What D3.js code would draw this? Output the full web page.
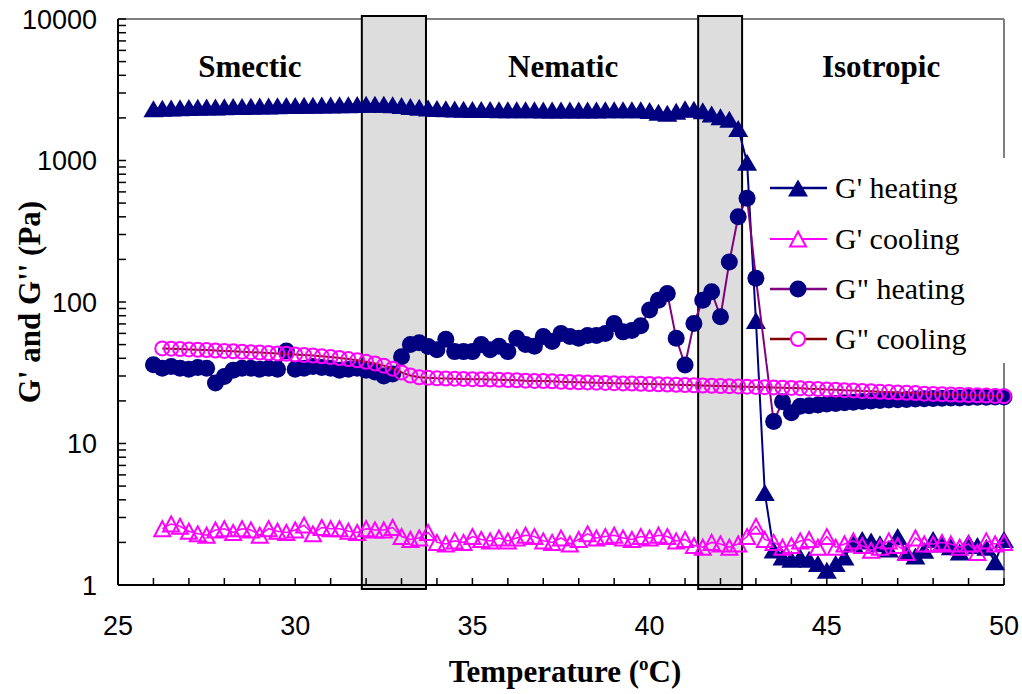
<!DOCTYPE html>
<html>
<head>
<meta charset="utf-8">
<script src="https://cdn.jsdelivr.net/npm/d3@7"></script>
<style>
  html, body { margin: 0; padding: 0; background: #fff; }
  svg { display: block; }
</style>
</head>
<body>
<svg id="chart" width="1022" height="694"></svg>
<script>
// ---------------- DATA ----------------
const temps = [26,26.25,26.5,26.75,27,27.25,27.5,27.75,28,28.25,28.5,28.75,29,29.25,29.5,29.75,
  30,30.25,30.5,30.75,31,31.25,31.5,31.75,32,32.25,32.5,32.75,33,33.25,33.5,33.75,
  34,34.25,34.5,34.75,35,35.25,35.5,35.75,36,36.25,36.5,36.75,37,37.25,37.5,37.75,
  38,38.25,38.5,38.75,39,39.25,39.5,39.75,40,40.25,40.5,40.75,41,41.25,41.5,41.75,
  42,42.25,42.5,42.75,43,43.25,43.5,43.75,44,44.25,44.5,44.75,45,45.25,45.5,45.75,
  46,46.25,46.5,46.75,47,47.25,47.5,47.75,48,48.25,48.5,48.75,49,49.25,49.5,49.75,50];

const gpHeating = [2320,2340,2350,2360,2370,2375,2385,2390,2400,2405,2410,2420,2425,2430,2440,2445,
  2450,2455,2460,2465,2470,2475,2480,2490,2495,2500,2495,2480,2450,2410,2380,2350,
  2330,2320,2310,2300,2295,2290,2290,2285,2285,2280,2280,2280,2275,2275,2275,2270,
  2270,2270,2275,2280,2280,2285,2285,2280,2260,2190,2160,2230,2320,2300,2250,2130,
  2040,1960,1680,970,74,4.5,1.77,1.58,1.52,1.58,1.52,1.42,1.27,1.42,1.58,1.96,
  2.1,2.05,1.96,1.8,2.2,1.71,1.6,1.76,2.1,1.95,1.86,1.71,2.0,1.9,1.85,1.46,2.1];

const gpCooling = [null,2.5,2.7,2.6,2.4,2.3,2.25,2.45,2.5,2.35,2.5,2.45,2.25,2.5,2.4,2.35,
  2.45,2.65,2.3,2.55,2.5,2.5,2.4,2.35,2.5,2.45,2.45,2.55,2.2,2.1,2.15,2.35,
  2.0,1.95,2.05,2.0,2.2,2.1,2.05,2.15,2.05,2.15,2.25,2.2,2.05,2.0,2.15,1.95,
  2.1,2.3,2.15,2.2,2.25,2.15,2.1,2.2,2.15,2.25,2.2,2.05,2.1,1.9,1.85,2.0,
  1.95,1.85,1.95,2.2,2.6,2.1,2.0,1.85,1.9,2.05,2.1,1.85,2.2,1.85,1.95,2.05,
  1.9,1.76,1.85,2.05,1.9,1.7,2.15,1.95,1.95,2.0,1.95,1.85,1.95,1.7,2.05,1.95,2.0];

const gppHeating = [36,34,35,34,33.5,34.5,34,26.8,29.7,33,34,34,33.5,34,33.5,45,
  33.5,34,35,34.5,34,33,33.5,34,33,32,30,31,41,50,51.5,48.5,
  46,54.5,44.6,44.6,44.6,50,46,48.6,44.6,55.5,50,48.6,57,52.5,60,57,
  55.5,58,58,60,70.6,61.5,63,68,87.7,103,115,55.4,35.9,70.6,103,118,
  78.7,192,401,541,147,null,14.3,19.7,16.5,18.3,18.5,18.7,19,19.2,19.4,19.6,
  19.8,20,20.1,20.3,20.4,20.5,20.6,20.7,20.8,20.9,21,21,21.1,21.2,21.2,21.3,21.3];

const gppCooling = [null,47,46.8,46.5,46.2,46,45.7,45.4,45.1,44.8,44.5,44.2,43.9,43.6,43.3,43,
  42.6,42.2,41.8,41.3,40.8,40.2,39.5,38.7,37.8,36.8,35.5,33.8,31.8,30.2,29.4,29.1,
  28.9,28.8,28.7,28.6,28.5,28.4,28.3,28.2,28.1,28,27.8,27.7,27.6,27.5,27.3,27.2,
  27.1,27,26.9,26.8,26.7,26.6,26.5,26.4,26.3,26.2,26.1,26,25.9,25.8,25.7,25.6,
  25.5,25.4,25.3,25.2,25.1,25,24.9,24.8,24.7,24.6,24.4,24.3,24.1,24,23.8,23.7,
  23.5,23.4,23.2,23.1,22.9,22.8,22.7,22.5,22.4,22.3,22.2,22.1,22,21.9,21.8,21.7,21.6];

const seriesNames = ["G' heating", "G' cooling", "G\" heating", "G\" cooling"];
const bandStarts = [31.88, 41.37];
const bandEnds   = [33.69, 42.61];
const phaseNames = ["Smectic", "Nematic", "Isotropic"];
const phaseCenters = [28.72, 37.56, 46.53];
const xTickValues = [25, 30, 35, 40, 45, 50];
const yTickValues = [1, 10, 100, 1000, 10000];

// ---------------- LAYOUT ----------------
const L = 118, R = 1004, T = 19, B = 585;
const svg = d3.select("#chart");
const x = d3.scaleLinear().domain([25, 50]).range([L, R]);
const y = d3.scaleLog().domain([1, 10000]).range([B, T]);

const styles = [
  { line: "#000080", lw: 2,   marker: "tri",  fill: "#000080", stroke: "#000080", sw: 0 },
  { line: "#FF00FF", lw: 1.5, marker: "tri",  fill: "none",    stroke: "#FF00FF", sw: 2 },
  { line: "#800080", lw: 2,   marker: "circ", fill: "#000080", stroke: "#000080", sw: 0 },
  { line: "#800000", lw: 2,   marker: "circ", fill: "none",    stroke: "#FF00FF", sw: 2 }
];
const values = [gpHeating, gpCooling, gppHeating, gppCooling];

function triPath(w, h) {
  return `M0,${-h/2}L${w/2},${h/2}L${-w/2},${h/2}Z`;
}

// frame top & right (gray)
svg.append("line").attr("x1", L).attr("x2", R).attr("y1", T).attr("y2", T)
  .attr("stroke", "#808080").attr("stroke-width", 2);
svg.append("line").attr("x1", R).attr("x2", R).attr("y1", T).attr("y2", B)
  .attr("stroke", "#808080").attr("stroke-width", 2);

// bands
bandStarts.forEach((s, i) => {
  svg.append("rect")
    .attr("x", x(s)).attr("y", T - 3)
    .attr("width", x(bandEnds[i]) - x(s)).attr("height", (B + 4) - (T - 3))
    .attr("fill", "#DDDDDD").attr("stroke", "#000").attr("stroke-width", 2);
});

// axes: bottom
const gx = svg.append("g");
gx.append("line").attr("x1", L).attr("x2", R).attr("y1", B).attr("y2", B)
  .attr("stroke", "#000").attr("stroke-width", 2);
d3.range(26, 51).forEach(t => {
  gx.append("line").attr("x1", x(t)).attr("x2", x(t)).attr("y1", B).attr("y2", B - 7)
    .attr("stroke", "#000").attr("stroke-width", 1.5);
});
xTickValues.forEach(t => {
  gx.append("text").attr("x", x(t)).attr("y", 635)
    .attr("text-anchor", "middle")
    .attr("font-family", "Liberation Sans, Arial, sans-serif").attr("font-size", 27)
    .attr("fill", "#000").text(t);
});

// axes: left
const gy = svg.append("g");
gy.append("line").attr("x1", L).attr("x2", L).attr("y1", T).attr("y2", B)
  .attr("stroke", "#000").attr("stroke-width", 2);
const minorTicks = y.ticks();
minorTicks.forEach(v => {
  gy.append("line").attr("x1", L).attr("x2", L + 8).attr("y1", y(v)).attr("y2", y(v))
    .attr("stroke", "#000").attr("stroke-width", 1.5);
});
yTickValues.forEach(v => {
  gy.append("text").attr("x", 97).attr("y", y(v)).attr("dy", "0.36em")
    .attr("text-anchor", "end")
    .attr("font-family", "Liberation Sans, Arial, sans-serif").attr("font-size", 27)
    .attr("fill", "#000").text(v);
});

// axis titles
svg.append("text")
  .attr("transform", `translate(40, ${(T + B) / 2}) rotate(-90)`)
  .attr("text-anchor", "middle")
  .attr("font-family", "Liberation Serif, Times New Roman, serif")
  .attr("font-weight", "bold").attr("font-size", 31)
  .text("G' and G'' (Pa)");

const xt = svg.append("text")
  .attr("x", 565).attr("y", 682)
  .attr("text-anchor", "middle")
  .attr("font-family", "Liberation Serif, Times New Roman, serif")
  .attr("font-weight", "bold").attr("font-size", 31);
xt.append("tspan").text("Temperature (");
xt.append("tspan").attr("font-size", 19).attr("dy", -12).text("o");
xt.append("tspan").attr("dy", 12).text("C)");

// phase labels
phaseNames.forEach((p, i) => {
  svg.append("text").attr("x", x(phaseCenters[i])).attr("y", 77)
    .attr("text-anchor", "middle")
    .attr("font-family", "Liberation Serif, Times New Roman, serif")
    .attr("font-weight", "bold").attr("font-size", 31)
    .text(p);
});

// series
const line = d3.line().x(d => x(d[0])).y(d => y(d[1]));
values.forEach((vals, si) => {
  const st = styles[si];
  const pts = temps.map((t, i) => [t, vals[i]]).filter(d => d[1] != null);
  const g = svg.append("g");
  g.append("path").datum(pts).attr("d", line)
    .attr("fill", "none").attr("stroke", st.line).attr("stroke-width", st.lw);
  if (st.marker === "tri") {
    const w = st.fill === "none" ? 16 : 20, h = st.fill === "none" ? 15 : 17;
    g.selectAll("path.m").data(pts).enter().append("path").attr("class", "m")
      .attr("d", triPath(w, h))
      .attr("transform", d => `translate(${x(d[0])},${y(d[1])})`)
      .attr("fill", st.fill).attr("stroke", st.stroke).attr("stroke-width", st.sw);
  } else {
    g.selectAll("circle").data(pts).enter().append("circle")
      .attr("cx", d => x(d[0])).attr("cy", d => y(d[1]))
      .attr("r", st.fill === "none" ? 7 : 8.5)
      .attr("fill", st.fill).attr("stroke", st.stroke).attr("stroke-width", st.sw);
  }
});

// legend
const lg = svg.append("g");
lg.append("rect").attr("x", 767).attr("y", 158).attr("width", 250).attr("height", 205)
  .attr("fill", "#fff");
const legendRows = [188, 239, 289, 339];
seriesNames.forEach((name, i) => {
  const st = styles[i];
  const ry = legendRows[i];
  lg.append("line").attr("x1", 770).attr("x2", 827).attr("y1", ry).attr("y2", ry)
    .attr("stroke", st.line).attr("stroke-width", st.lw + 0.5);
  if (st.marker === "tri") {
    const w = st.fill === "none" ? 16 : 20, h = st.fill === "none" ? 15 : 17;
    lg.append("path").attr("d", triPath(w, h))
      .attr("transform", `translate(798,${ry})`)
      .attr("fill", st.fill === "none" ? "#fff" : st.fill)
      .attr("stroke", st.stroke).attr("stroke-width", st.sw);
  } else {
    lg.append("circle").attr("cx", 798).attr("cy", ry)
      .attr("r", st.fill === "none" ? 7 : 8.5)
      .attr("fill", st.fill === "none" ? "#fff" : st.fill)
      .attr("stroke", st.stroke).attr("stroke-width", st.sw);
  }
  lg.append("text").attr("x", 835).attr("y", ry + 10)
    .attr("font-family", "Liberation Serif, Times New Roman, serif")
    .attr("font-size", 30).attr("fill", "#000")
    .text(name);
});
</script>
</body>
</html>
